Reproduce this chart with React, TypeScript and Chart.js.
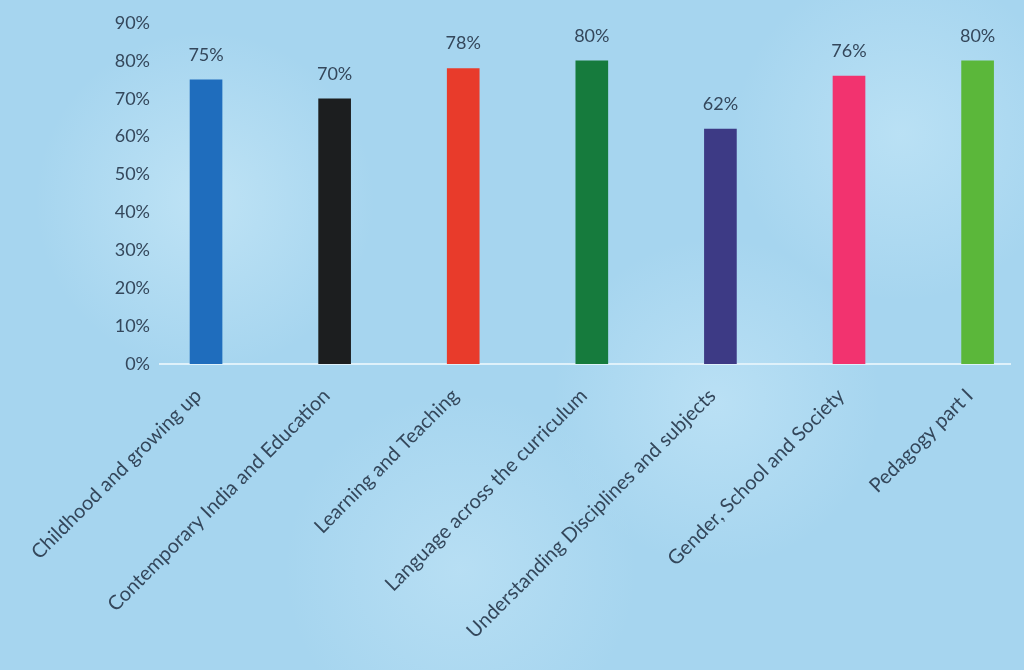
import React, { useEffect, useRef } from "react";
import { Chart, registerables } from "chart.js";

Chart.register(...registerables);

const categories = [
  "Childhood and growing up",
  "Contemporary India and Education",
  "Learning and Teaching",
  "Language across the curriculum",
  "Understanding Disciplines and subjects",
  "Gender, School and Society",
  "Pedagogy part I",
];
const values = [75, 70, 78, 80, 62, 76, 80];
const barColors = ["#1f6dbd", "#1c1e1f", "#e83b2b", "#167b3d", "#3d3a85", "#f2336f", "#5bb73a"];
const yTicks = [0, 10, 20, 30, 40, 50, 60, 70, 80, 90];

const FONT = "Lato, 'Open Sans', sans-serif";
const TEXT = "#34475b";

const valueLabels = {
  id: "valueLabels",
  afterDatasetsDraw(chart: any) {
    const ctx = chart.ctx;
    const meta = chart.getDatasetMeta(0);
    ctx.save();
    ctx.font = `18px ${FONT}`;
    ctx.fillStyle = TEXT;
    ctx.textAlign = "center";
    ctx.textBaseline = "alphabetic";
    meta.data.forEach((el: any, i: number) => {
      ctx.fillText(values[i] + "%", el.x, el.y - 19);
    });
    ctx.restore();
  },
};

export default function App() {
  const ref = useRef<HTMLCanvasElement>(null);
  useEffect(() => {
    if (!ref.current) return;
    const chart = new Chart(ref.current, {
      type: "bar",
      data: {
        datasets: [
          {
            data: values.map((v, i) => ({ x: i, y: v })),
            backgroundColor: barColors,
            barThickness: 32,
            borderWidth: 0,
          },
        ],
      },
      options: {
        animation: false,
        responsive: false,
        layout: { padding: { top: 23, right: 14, left: 0, bottom: 0 } },
        plugins: { legend: { display: false }, tooltip: { enabled: false } },
        scales: {
          x: {
            type: "linear",
            offset: false,
            min: -0.358,
            max: 6.252,
            grid: { display: false },
            border: { display: true, color: "#dff1fa", width: 2 },
            afterBuildTicks: (s: any) => {
              s.ticks = categories.map((_, i) => ({ value: i }));
            },
            afterFit: (s: any) => {
              s.height = 306;
              s.paddingLeft = 0;
              s.paddingRight = 0;
            },
            ticks: {
              autoSkip: false,
              minRotation: 45,
              maxRotation: 45,
              padding: 12,
              labelOffset: -8,
              color: TEXT,
              font: { family: FONT, size: 20 },
              callback: (v: any) => categories[v] ?? "",
            },
          },
          y: {
            min: 0,
            max: 90,
            grid: { display: false },
            border: { display: false },
            afterBuildTicks: (s: any) => {
              s.ticks = yTicks.map((v) => ({ value: v }));
            },
            afterFit: (s: any) => {
              s.width = 160;
              s.paddingTop = 0;
              s.paddingBottom = 0;
            },
            ticks: {
              padding: 2,
              color: TEXT,
              font: { family: FONT, size: 18 },
              callback: (v: any) => v + "%",
            },
          },
        },
      },
      plugins: [valueLabels],
    });
    return () => chart.destroy();
  }, []);

  return (
    <div
      style={{
        position: "fixed",
        left: 0,
        top: 0,
        width: 1024,
        height: 670,
        background:
          "radial-gradient(circle at 20% 30%, rgba(210,238,250,0.55) 0, rgba(210,238,250,0) 18%)," +
          "radial-gradient(circle at 70% 60%, rgba(205,235,250,0.5) 0, rgba(205,235,250,0) 20%)," +
          "radial-gradient(circle at 45% 85%, rgba(200,232,248,0.5) 0, rgba(200,232,248,0) 22%)," +
          "radial-gradient(circle at 88% 20%, rgba(205,236,250,0.5) 0, rgba(205,236,250,0) 16%)," +
          "#a6d5ef",
      }}
    >
      <canvas ref={ref} width={1024} height={670} style={{ display: "block" }} />
    </div>
  );
}
